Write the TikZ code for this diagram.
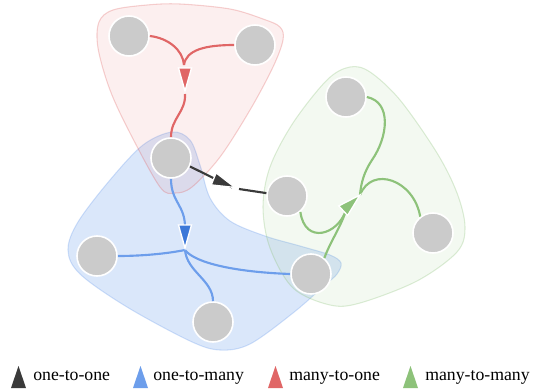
\documentclass[tikz,border=0pt]{standalone}
\usepackage{fontspec}
\setmainfont{Liberation Serif}
\definecolor{redc}{HTML}{E06666}
\definecolor{bluec}{HTML}{6D9EEB}
\definecolor{bluedark}{HTML}{3C78D8}
\definecolor{greenc}{HTML}{8DC27A}
\definecolor{blackc}{HTML}{3A3A3A}
\definecolor{nodegray}{HTML}{CBCBCB}
\begin{document}
\begin{tikzpicture}[x=0.75pt,y=-0.75pt,
  vert/.style={circle, minimum size=30pt, inner sep=0pt, fill=nodegray, draw=white, line width=1.2pt},
  hull/.style={line width=0.8pt, fill opacity=#1, draw opacity=0.3},
  edge/.style={line width=1.6pt},
  pics/arrtri/.style={code={\path[pic actions, draw=white, line width=1pt, line join=miter] (0,0) -- (-23,6.5) -- (-23,-6.5) -- cycle;}},
  legtri/.style={line width=0pt},
  legtext/.style={anchor=base west, inner sep=0pt, font=\fontsize{13.3}{16}\selectfont}
]
\useasboundingbox (0,0) rectangle (536,389);
% hulls
\draw[hull=0.25, fill=bluec, draw=bluec] plot[smooth cycle, tension=0.55] coordinates {
 (172,132) (190,140) (200,165) (210,198) (230,221) (265,236) (300,246) (330,255) (341,263) (337,274) (325,285) (293,313) (250,344) (220,350) (190,341) (127,307) (80,274) (68,250) (78,222) (110,180) (143,145)};
\draw[hull=0.1, fill=redc, draw=redc] plot[smooth cycle, tension=0.55] coordinates {
 (99,22) (113,10) (147,5) (180,4) (230,9) (263,19) (280,27) (283,40) (273,67) (250,110) (220,157) (192,187) (175,193) (160,187) (130,133) (110,90) (98,48)};
\draw[hull=0.1, fill=greenc, draw=greenc] plot[smooth cycle, tension=0.55] coordinates {
 (350,67) (370,72) (400,100) (437,153) (457,193) (465,227) (457,252) (417,281) (360,303) (330,305) (293,288) (270,248) (263,207) (270,167) (293,123) (327,80)};
% nodes
\node[vert] (A) at (129,36) {};
\node[vert] (B) at (255,45) {};
\node[vert] (C) at (171,158) {};
\node[vert] (D) at (287,196) {};
\node[vert] (E) at (346,97) {};
\node[vert] (F) at (433,233) {};
\node[vert] (G) at (311,274) {};
\node[vert] (H) at (97,256) {};
\node[vert] (I) at (213,322) {};
% junction coordinates
\coordinate (rj) at (184,65);
\coordinate (rt) at (185,91);
\coordinate (ro) at (185,94);
\coordinate (kt) at (235,187.5);
\coordinate (ko) at (239,189);
\coordinate (bj) at (185,227);
\coordinate (bt) at (185,248);
\coordinate (bo) at (185,250);
\coordinate (gj) at (346,210);
\coordinate (gt) at (360,195);
% red edges
\begin{scope}[on background layer/.try]
\end{scope}
\draw[edge, redc] (A.east) .. controls (168,38) and (183,50) .. (rj);
\draw[edge, redc] (B.west) .. controls (205,45) and (186,50) .. (rj);
\draw[edge, redc] (ro) .. controls (186,112) and (171,118) .. (C.north);
\pic[fill=redc, rotate=-90] at (rt) {arrtri};
% black edge
\draw[edge, blackc] (C.-24) -- ([xshift=-2pt]kt);
\draw[edge, blackc] (ko) -- (D.172);
\pic[fill=blackc, rotate=-22] at (kt) {arrtri};
% blue edges
\draw[edge, bluec] (C.south) .. controls (171,202) and (185,205) .. (bj);
\draw[edge, bluec] (bo) .. controls (165,254) and (140,256) .. (H.east);
\draw[edge, bluec] (bo) .. controls (195,263) and (235,272) .. (G.west);
\draw[edge, bluec] (bo) .. controls (187,272) and (213,280) .. (I.north);
\pic[fill=bluedark, rotate=-90] at (bt) {arrtri};
% green edges
\draw[edge, greenc] (D.-50) .. controls (305,245) and (338,235) .. (gj);
\draw[edge, greenc] (G.50) .. controls (330,242) and (342,225) .. (gj);
\draw[edge, greenc] (E.east) .. controls (392,102) and (388,137) .. (372,160) .. controls (364,172) and (361,183) .. (gt);
\draw[edge, greenc] (F.128) .. controls (414,180) and (372,165) .. (gt);
\pic[fill=greenc, rotate=43] at (gt) {arrtri};
% legend
\fill[blackc] (11,388) -- (26,388) -- (18.5,366) -- cycle;
\node[legtext] (l1) at (33,380) {one-to-one};
\fill[bluec] (133,388) -- (148,388) -- (140.5,366) -- cycle;
\node[legtext] (l2) at (153,380) {one-to-many};
\fill[redc] (268,388) -- (283,388) -- (275.5,366) -- cycle;
\node[legtext] (l3) at (289,380) {many-to-one};
\fill[greenc] (403,388) -- (418,388) -- (410.5,366) -- cycle;
\node[legtext] (l4) at (425,380) {many-to-many};
\end{tikzpicture}
\end{document}
